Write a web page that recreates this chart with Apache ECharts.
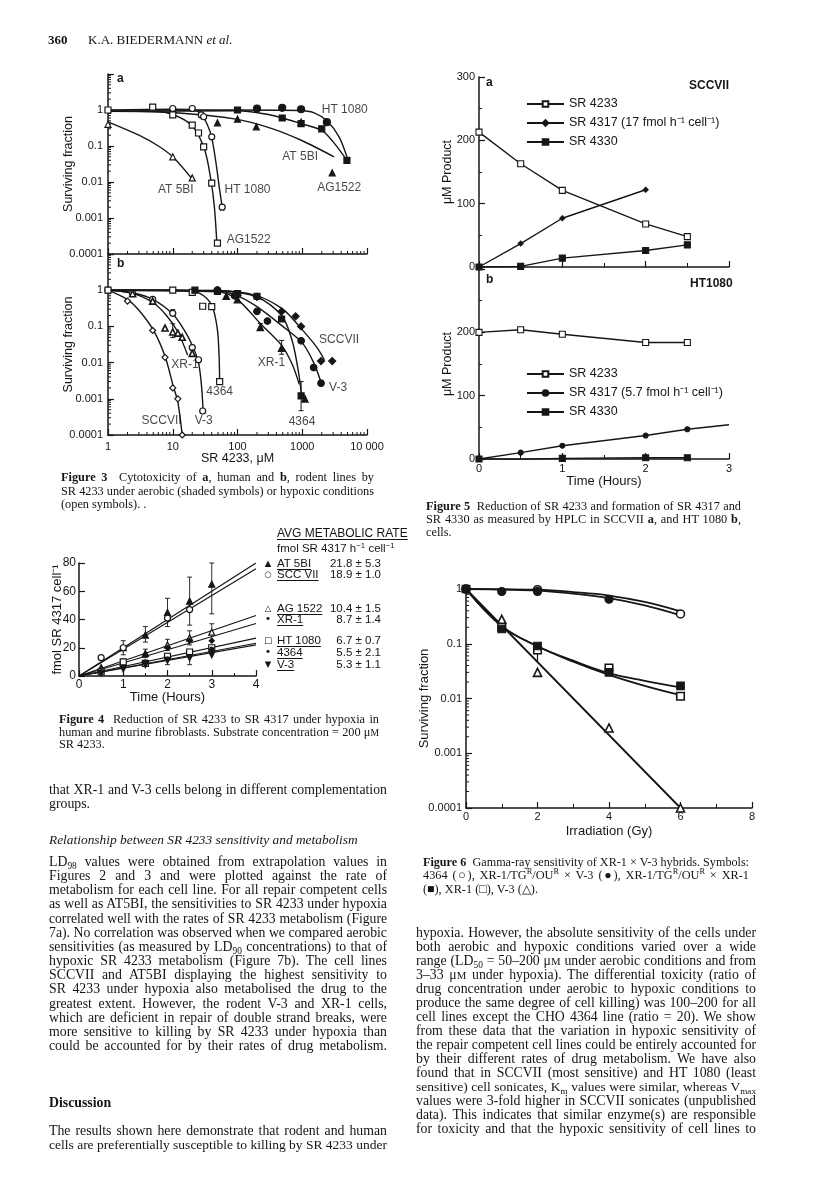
<!DOCTYPE html>
<html>
<head>
<meta charset="utf-8">
<title>SR 4233 figures</title>
<script src="https://cdn.jsdelivr.net/npm/echarts@6.0.0/dist/echarts.min.js"></script>
<style>
html,body{margin:0;padding:0;background:#fff;}
#page{position:relative;width:816px;height:1194px;overflow:hidden;background:#fff;}
#chart{position:absolute;left:0;top:0;width:816px;height:1194px;}
#overlay{position:absolute;left:0;top:0;width:816px;height:1194px;}
.txt{position:absolute;color:#141414;font-family:'Liberation Serif','Times New Roman',serif;white-space:nowrap;line-height:14px;}
.j{white-space:normal;text-align:justify;text-align-last:justify;overflow:hidden;}
.cap{font-size:12.3px;}
.body{font-size:13.8px;}
.sans{font-family:'Liberation Sans',Arial,sans-serif;}
sub,sup{font-size:0.68em;line-height:0;}
sub{vertical-align:-0.3em;}
sup{vertical-align:0.55em;}
.sc{font-size:0.78em;}
u{text-underline-offset:2px;}
</style>
</head>
<body>
<div id="page">
  <div id="chart"></div>
  <div id="overlay"></div>
</div>
<script>
// ================= DATA =================
// Figure 3 tick labels
const f3XTickLabels = ['1', '10', '100', '1000', '10 000'];          // decades 0..4
const f3YTickLabels = ['0.0001', '0.001', '0.01', '0.1', '1'];     // decades -4..0

// Figure 3a (human lines), [SR 4233 µM, surviving fraction]
const f3aAG1522Hyp    = [[1,1],[4.9,1.2],[10,0.73],[20,0.38],[25,0.23],[30,0.094],[40,0.0093],[49,0.0002]];
const f3aAG1522HypFit = [[1,0.92],[5,0.9],[10,0.75],[20,0.36],[31,0.08],[39,0.011],[44,0.002],[48,0.0002]];
const f3aHT1080Hyp    = [[10,1.1],[20,1.1],[27.6,0.73],[30,0.65],[40,0.18],[58,0.002]];
const f3aHT1080HypFit = [[1,1],[10,1.05],[20,1.02],[27,0.8],[34,0.4],[40,0.17],[47,0.03],[53,0.006],[58,0.002]];
const f3aAT5BIHyp     = [[1,0.4],[10,0.05],[20,0.013]];
const f3aAT5BIHypFit  = [[1,0.47],[3,0.2],[6,0.1],[10,0.05],[20,0.012]];
const f3aHT1080Aer    = [[200,1.1],[490,1.15],[960,1.05],[2400,0.46]];
const f3aHT1080AerFit = [[3,1],[100,1],[900,0.97],[1500,0.85],[2400,0.5],[3700,0.18],[4900,0.05]];
const f3aAG1522Aer    = [[100,1],[490,0.6],[960,0.42],[2000,0.3],[4900,0.04]];
const f3aAG1522AerFit = [[1,0.92],[100,0.95],[300,0.75],[490,0.6],[960,0.42],[2000,0.27],[3000,0.13],[4900,0.04]];
const f3aAT5BIAer     = [[49,0.44],[100,0.56],[195,0.34],[960,0.46],[2900,0.018]];
const f3aAT5BIAerFit  = [[1,0.95],[10,0.85],[100,0.55],[350,0.3],[1000,0.14],[3100,0.05]];
const f3aLabels = [['HT 1080',2000,1.0],['AT 5BI',490,0.05],['AG1522',1700,0.0068],
                   ['AT 5BI',5.9,0.006],['HT 1080',63,0.006],['AG1522',68,0.00025]];

// Figure 3b (rodent lines)
const f3bSCCVIIHyp    = [[1,1],[2,0.5],[4.9,0.077],[7.6,0.014],[10,0.002],[12,0.001],[14,0.0001]];
const f3bSCCVIIHypFit = [[1,1],[2,0.55],[3,0.28],[5,0.08],[7.6,0.015],[10,0.0025],[12,0.0008],[14,0.0001]];
const f3bV3Hyp        = [[1,1],[2.4,0.82],[4.9,0.56],[10,0.23],[20,0.026],[25,0.012],[29,0.00046]];
const f3bV3HypFit     = [[1,1],[2.4,0.85],[5,0.55],[10,0.22],[15,0.08],[20,0.03],[25,0.01],[28,0.002],[29.5,0.0004]];
const f3bXR1Hyp       = [[2.4,0.8],[4.9,0.5],[7.6,0.09],[10,0.07],[12,0.065],[14,0.05],[20,0.018]];
const f3bXR1HypFit    = [[1,1],[2.4,0.82],[5,0.45],[8,0.2],[12,0.07],[17,0.016]];
const f3b4364Hyp      = [[1,1],[10,1],[20,0.87],[29,0.36],[40,0.35],[53,0.003]];
const f3b4364HypFit   = [[1,1],[10,1],[20,0.95],[30,0.7],[41,0.35],[49,0.08],[52,0.015],[53,0.003]];
const f3bSCCVIIAer    = [[49,1],[100,0.73],[200,0.65],[480,0.26],[790,0.19],[960,0.1],[1950,0.011],[2900,0.011]];
const f3bSCCVIIAerFit = [[1,1],[50,0.98],[200,0.7],[500,0.3],[900,0.1],[1640,0.028],[2200,0.012]];
const f3bV3Aer        = [[49,1],[90,0.7],[200,0.26],[290,0.14],[960,0.04],[1500,0.0073],[1950,0.0027]];
const f3bV3AerFit     = [[1,1],[50,0.95],[100,0.7],[200,0.35],[500,0.1],[1000,0.035],[1500,0.01],[2000,0.0025]];
const f3bXR1Aer       = [[67,0.68],[100,0.55],[225,0.094],[480,0.025],[1100,0.001]];
const f3bXR1AerFit    = [[1,1],[50,0.9],[100,0.55],[225,0.12],[480,0.03],[700,0.009],[900,0.0025]];
const f3b4364Aer      = [[22,1],[49,0.93],[100,0.8],[200,0.68],[480,0.16],[960,0.0012]];
const f3b4364AerFit   = [[1,1],[50,0.95],[200,0.65],[480,0.2],[700,0.04],[900,0.004],[980,0.001]];
const f3bErr = [[10,0.049,0.118],[10,0.2,0.29],[20,0.015,0.03],[225,0.08,0.12],[480,0.017,0.041],[960,0.00047,0.003]];
const f3bLabels = [['SCCVII',1820,0.044],['XR-1',206,0.0098],['V-3',2600,0.002],['4364',617,0.00023],
                   ['XR-1',9.5,0.0088],['4364',33,0.0016],['SCCVII',3.3,0.00025],['V-3',21.8,0.00025]];

// Figure 4: metabolic rate (fmol SR 4317 per cell vs time, h)
const f4Names  = ['AT 5BI','SCC VII','AG 1522','XR-1','HT 1080','4364','V-3'];
const f4Rates  = ['21.8 ± 5.3','18.9 ± 1.0','10.4 ± 1.5','8.7 ± 1.4','6.7 ± 0.7','5.5 ± 2.1','5.3 ± 1.1'];
const f4Slopes = [20, 19, 10.7, 9.3, 6.7, 5.8, 5.5];   // fitted lines as drawn
const f4Time   = [0.5, 1, 1.5, 2, 2.5, 3];
const f4AT5BI  = [6, 20, 29, 45, 53, 65];
const f4SCCVII = [13, 20, null, 41, 47, null];
const f4AG1522 = [5, 10, 16, 22, 27, 31];
const f4XR1    = [4, 9, 15, 20, 25, 25];
const f4HT1080 = [3, 10, 9, 14, 17, 20];
const f44364   = [3, 6, 10, 12, 14, 19];
const f4V3     = [2, 5, 8, 11, 13, 15];
const f4Err = [[1,15,25],[1.5,24,35],[2,35,55],[2.5,36,70],[3,44,80],[1.5,13,19],[2,18,26],[2.5,22,32],[3,25,37],[2,8,16],[2.5,8,18]];

// Figure 5: HPLC, µM vs time (h)
const f5aT4233 = [0, 0.5, 1, 2, 2.5];   const f5a4233 = [213, 163, 121, 68, 48];
const f5aT4317 = [0, 0.5, 1, 2];        const f5a4317 = [0, 37, 77, 122];
const f5aT4330 = [0, 0.5, 1, 2, 2.5];   const f5a4330 = [0, 1, 14, 26, 35];
const f5bT4233 = [0, 0.5, 1, 2, 2.5];   const f5b4233 = [200, 204, 197, 184, 184];
const f5bT4317 = [0, 0.5, 1, 2, 2.5];   const f5b4317 = [0, 10, 21, 37, 47];
const f5bT4317Ext = [2.5, 3];           const f5b4317Ext = [47, 54];
const f5bT4330 = [0, 0.5, 1, 2, 2.5];   const f5b4330 = [0, -0.5, 1, 2, 2];
const f5aNames = ['SR 4233', 'SR 4317 (17 fmol h⁻¹ cell⁻¹)', 'SR 4330'];
const f5bNames = ['SR 4233 ', 'SR 4317 (5.7 fmol h⁻¹ cell⁻¹)', 'SR 4330 '];

// Figure 6: gamma-ray survival, dose (Gy)
const f6Dose4364 = [0, 2, 6];          const f6S4364 = [1, 0.97, 0.35];
const f6DoseTGV3 = [0, 1, 2, 4];       const f6STGV3 = [1, 0.9, 0.9, 0.65];
const f6DoseTGXR = [0, 1, 2, 4, 6];    const f6STGXR = [1, 0.186, 0.091, 0.03, 0.017];
const f6DoseXR1  = [1, 2, 4, 6];       const f6SXR1  = [0.2, 0.077, 0.036, 0.011];
const f6DoseV3   = [1, 2, 4, 6];       const f6SV3   = [0.28, 0.03, 0.0029, 0.0001];
const f6FitDose  = [0, 1, 2, 3, 4, 5, 6];
const f6Fit4364  = [1, 0.99, 0.97, 0.88, 0.76, 0.58, 0.39];
const f6FitTGV3  = [1, 0.97, 0.93, 0.82, 0.68, 0.5, 0.33];
const f6FitTGXR  = [1, 0.21, 0.09, 0.049, 0.029, 0.021, 0.016];
const f6FitXR1   = [1, 0.21, 0.09, 0.047, 0.027, 0.017, 0.0115];
const f6FitV3Dose = [0, 6];            const f6FitV3 = [1, 0.0001];
const f6Err = [[2,0.045,0.077],[6,0.0093,0.011]];
const f6YTickLabels = ['0.0001', '0.001', '0.01', '0.1', '1'];

// ================= CHART =================
const K = '#161616';
const SANS = "'Liberation Sans', Arial, Helvetica, sans-serif";
const zip = (xs, ys) => xs.map((x, i) => [x, ys[i]]);

function merge(a, b) {
  for (const k in b) {
    const v = b[k];
    if (v && typeof v === 'object' && !Array.isArray(v)) {
      a[k] = merge(a[k] && typeof a[k] === 'object' ? a[k] : {}, v);
    } else a[k] = v;
  }
  return a;
}
function axis(extra) {
  return merge({
    axisLine: {show: true, onZero: false, lineStyle: {color: K, width: 1.5}},
    axisTick: {show: true, inside: true, length: 6, lineStyle: {color: K, width: 1.2}},
    minorTick: {show: false},
    axisLabel: {show: true, color: K, fontSize: 11, fontFamily: SANS, margin: 5},
    splitLine: {show: false},
    nameLocation: 'middle',
    nameMoveOverlap: false,
    nameTextStyle: {color: K, fontSize: 12.5, fontFamily: SANS}
  }, extra);
}
const fmtLogY = v => { const e = Math.round(Math.log10(v)); return f3YTickLabels[e + 4] || ''; };
const fmtLogX = v => { const e = Math.round(Math.log10(v)); return f3XTickLabels[e] || ''; };
const fmt6Y = v => { const e = Math.round(Math.log10(v)); return f6YTickLabels[e + 4] || ''; };

function fit(xi, yi, data, w, smooth) {
  return {type: 'line', xAxisIndex: xi, yAxisIndex: yi, data, smooth: smooth === undefined ? 0.3 : smooth,
    symbol: 'none', lineStyle: {color: K, width: w || 1.4}, z: 3, silent: true};
}
function marks(xi, yi, data, symbol, filled, size, extra) {
  return merge({type: 'scatter', xAxisIndex: xi, yAxisIndex: yi, data, symbol, symbolSize: size || 6,
    itemStyle: {color: filled ? K : '#fff', borderColor: K, borderWidth: 1.2, opacity: 1}, z: 5, silent: true}, extra || {});
}
function labels(xi, yi, arr, fs) {
  return {type: 'scatter', xAxisIndex: xi, yAxisIndex: yi, symbolSize: 0, silent: true, z: 6,
    data: arr.map(a => ({name: a[0], value: [a[1], a[2]]})),
    label: {show: true, position: 'right', distance: 0, formatter: '{b}', color: K, fontSize: fs || 12, fontFamily: SANS}};
}
function errSeries(xi, yi, arr, cap, w) {
  return {type: 'custom', xAxisIndex: xi, yAxisIndex: yi, data: arr, encode: {x: 0, y: [1, 2]}, z: 4, silent: true, clip: false,
    renderItem: (p, api) => {
      const x = api.value(0);
      const a = api.coord([x, api.value(1)]), b = api.coord([x, api.value(2)]);
      const st = {stroke: K, lineWidth: w || 1};
      return {type: 'group', children: [
        {type: 'line', shape: {x1: a[0], y1: a[1], x2: b[0], y2: b[1]}, style: st},
        {type: 'line', shape: {x1: a[0] - cap, y1: a[1], x2: a[0] + cap, y2: a[1]}, style: st},
        {type: 'line', shape: {x1: b[0] - cap, y1: b[1], x2: b[0] + cap, y2: b[1]}, style: st}]};
    }};
}
function logMinor(xi, yi, dir, e0, e1, fixed, len) {
  const data = [];
  for (let e = e0; e < e1; e++) for (let k = 2; k <= 9; k++) {
    const v = k * Math.pow(10, e);
    data.push(dir === 'y' ? [fixed, v] : [v, fixed]);
  }
  return {type: 'custom', xAxisIndex: xi, yAxisIndex: yi, data, silent: true, clip: false, z: 2,
    renderItem: (p, api) => {
      const c = api.coord([api.value(0), api.value(1)]);
      const shape = dir === 'y' ? {x1: c[0], y1: c[1], x2: c[0] + len, y2: c[1]}
                                : {x1: c[0], y1: c[1], x2: c[0], y2: c[1] - len};
      return {type: 'line', shape, style: {stroke: K, lineWidth: 1}};
    }};
}
function pline(xi, yi, data, symbol, filled, size, name, extra) {
  return merge({type: 'line', name, xAxisIndex: xi, yAxisIndex: yi, data, symbol, symbolSize: size, showSymbol: true,
    lineStyle: {color: K, width: 1.4}, itemStyle: {color: filled ? K : '#fff', borderColor: K, borderWidth: 1.1},
    z: 4, silent: true}, extra || {});
}

const series = [];
// ---- Figure 3a ----
[f3aAG1522HypFit, f3aHT1080HypFit, f3aAT5BIHypFit, f3aHT1080AerFit, f3aAG1522AerFit, f3aAT5BIAerFit]
  .forEach(d => series.push(fit(0, 0, d, 1.4)));
series.push(marks(0, 0, f3aAG1522Hyp, 'rect', false, 6));
series.push(marks(0, 0, f3aHT1080Hyp, 'circle', false, 6));
series.push(marks(0, 0, f3aAT5BIHyp, 'triangle', false, 6));
series.push(marks(0, 0, f3aHT1080Aer, 'circle', true, 7));
series.push(marks(0, 0, f3aAG1522Aer, 'rect', true, 6));
series.push(marks(0, 0, f3aAT5BIAer, 'triangle', true, 6));
series.push(labels(0, 0, f3aLabels, 12));
series.push(logMinor(0, 0, 'y', -4, 1, 1, 3));
series.push(logMinor(0, 0, 'x', 0, 4, 0.0001, 3));
// ---- Figure 3b ----
[f3bSCCVIIHypFit, f3bV3HypFit, f3bXR1HypFit, f3b4364HypFit, f3bSCCVIIAerFit, f3bV3AerFit, f3bXR1AerFit, f3b4364AerFit]
  .forEach(d => series.push(fit(1, 1, d, 1.4)));
series.push(errSeries(1, 1, f3bErr, 2.5, 1));
series.push(marks(1, 1, f3bSCCVIIHyp, 'diamond', false, 6));
series.push(marks(1, 1, f3bV3Hyp, 'circle', false, 6));
series.push(marks(1, 1, f3bXR1Hyp, 'triangle', false, 6, {itemStyle: {borderWidth: 1.6}}));
series.push(marks(1, 1, f3b4364Hyp, 'rect', false, 6));
series.push(marks(1, 1, f3bSCCVIIAer, 'diamond', true, 7));
series.push(marks(1, 1, f3bV3Aer, 'circle', true, 6.5));
series.push(marks(1, 1, f3bXR1Aer, 'triangle', true, 6.5));
series.push(marks(1, 1, f3b4364Aer, 'rect', true, 6));
series.push(labels(1, 1, f3bLabels, 12));
series.push(logMinor(1, 1, 'y', -4, 1, 1, 3));
series.push(logMinor(1, 1, 'x', 0, 4, 0.0001, 3));
// ---- Figure 4 ----
f4Slopes.forEach(s => series.push(fit(2, 2, [[0, 0], [4, 4 * s]], 1.2, false)));
series.push(errSeries(2, 2, f4Err, 2.5, 0.9));
const f4Sets = [f4AT5BI, f4SCCVII, f4AG1522, f4XR1, f4HT1080, f44364, f4V3];
const f4Sym = [['triangle', true, 6], ['circle', false, 6], ['triangle', false, 6], ['diamond', true, 5],
               ['rect', false, 6], ['circle', true, 4], ['triangle', true, 6]];
f4Sets.forEach((vals, i) => {
  const d = zip(f4Time, vals).filter(p => p[1] !== null);
  series.push(marks(2, 2, d, f4Sym[i][0], f4Sym[i][1], f4Sym[i][2], i === 6 ? {symbolRotate: 180} : {}));
});
// ---- Figure 5 ----
series.push(pline(3, 3, zip(f5aT4233, f5a4233), 'rect', false, 6, f5aNames[0]));
series.push(pline(3, 3, zip(f5aT4317, f5a4317), 'diamond', true, 5, f5aNames[1]));
series.push(pline(3, 3, zip(f5aT4330, f5a4330), 'rect', true, 6, f5aNames[2]));
series.push(pline(4, 4, zip(f5bT4233, f5b4233), 'rect', false, 6, f5bNames[0]));
series.push(pline(4, 4, zip(f5bT4317, f5b4317), 'circle', true, 5, f5bNames[1]));
series.push(fit(4, 4, zip(f5bT4317Ext, f5b4317Ext), 1.4, false));
series.push(pline(4, 4, zip(f5bT4330, f5b4330), 'rect', true, 6, f5bNames[2]));
// ---- Figure 6 ----
series.push(fit(5, 5, zip(f6FitDose, f6Fit4364), 1.8, 0.4));
series.push(fit(5, 5, zip(f6FitDose, f6FitTGV3), 1.8, 0.4));
series.push(fit(5, 5, zip(f6FitDose, f6FitTGXR), 1.8, 0.4));
series.push(fit(5, 5, zip(f6FitDose, f6FitXR1), 1.8, 0.4));
series.push(fit(5, 5, zip(f6FitV3Dose, f6FitV3), 1.8, false));
series.push(errSeries(5, 5, f6Err, 0.1, 1.2));
series.push(marks(5, 5, zip(f6Dose4364, f6S4364), 'circle', false, 8, {itemStyle: {borderWidth: 1.6}}));
series.push(marks(5, 5, zip(f6DoseTGV3, f6STGV3), 'circle', true, 8));
series.push(marks(5, 5, zip(f6DoseXR1, f6SXR1), 'rect', false, 7.5, {itemStyle: {borderWidth: 1.6}}));
series.push(marks(5, 5, zip(f6DoseTGXR, f6STGXR), 'rect', true, 7.5));
series.push(marks(5, 5, zip(f6DoseV3, f6SV3), 'triangle', false, 8, {itemStyle: {borderWidth: 1.6}}));
series.push(logMinor(5, 5, 'y', -4, 0, 0, 3));

const legendBase = {orient: 'vertical', left: 526, itemWidth: 37, itemHeight: 7, itemGap: 5, padding: 0,
  selectedMode: false, textStyle: {color: K, fontSize: 12.5, fontFamily: SANS, lineHeight: 14}};

const option = {
  animation: false,
  backgroundColor: 'transparent',
  grid: [
    {left: 108, top: 74, width: 259, height: 180},
    {left: 108, top: 254, width: 259, height: 181},
    {left: 79, top: 563, width: 177, height: 113},
    {left: 479, top: 77, width: 250, height: 190},
    {left: 479, top: 269, width: 250, height: 190},
    {left: 466, top: 589, width: 286, height: 219}
  ],
  legend: [
    merge({data: f5aNames, top: 97}, legendBase),
    merge({data: f5bNames, top: 367}, legendBase)
  ],
  xAxis: [
    axis({gridIndex: 0, type: 'log', logBase: 10, min: 1, max: 10000, splitNumber: 4, axisLabel: {show: false}}),
    axis({gridIndex: 1, type: 'log', logBase: 10, min: 1, max: 10000, splitNumber: 4,
          axisLabel: {formatter: fmtLogX, margin: 6}, name: 'SR 4233, μM', nameGap: 17}),
    axis({gridIndex: 2, type: 'value', min: 0, max: 4, interval: 1,
          minorTick: {show: true, splitNumber: 2, length: 3, lineStyle: {color: K}},
          axisLabel: {fontSize: 12, margin: 3}, name: 'Time (Hours)', nameGap: 15, nameTextStyle: {fontSize: 13}}),
    axis({gridIndex: 3, type: 'value', min: 0, max: 3, interval: 1,
          minorTick: {show: true, splitNumber: 2, length: 4, lineStyle: {color: K}}, axisLabel: {show: false}}),
    axis({gridIndex: 4, type: 'value', min: 0, max: 3, interval: 1,
          minorTick: {show: true, splitNumber: 2, length: 4, lineStyle: {color: K}},
          axisLabel: {margin: 4}, name: 'Time (Hours)', nameGap: 16, nameTextStyle: {fontSize: 13}}),
    axis({gridIndex: 5, type: 'value', min: 0, max: 8, interval: 2,
          minorTick: {show: true, splitNumber: 2, length: 4, lineStyle: {color: K}},
          axisLabel: {margin: 3}, name: 'Irradiation (Gy)', nameGap: 17, nameTextStyle: {fontSize: 13}})
  ],
  yAxis: [
    axis({gridIndex: 0, type: 'log', logBase: 10, min: 0.0001, max: 10, splitNumber: 5,
          axisLabel: {formatter: fmtLogY}, name: 'Surviving fraction', nameGap: 33}),
    axis({gridIndex: 1, type: 'log', logBase: 10, min: 0.0001, max: 10, splitNumber: 5,
          axisLabel: {formatter: fmtLogY}, name: 'Surviving fraction', nameGap: 33}),
    axis({gridIndex: 2, type: 'value', min: 0, max: 80, interval: 20,
          axisLabel: {fontSize: 12, margin: 3}, name: 'fmol SR 4317 cell⁻¹', nameGap: 15, nameTextStyle: {fontSize: 13}}),
    axis({gridIndex: 3, type: 'value', min: 0, max: 300, interval: 100,
          minorTick: {show: true, splitNumber: 2, length: 3, lineStyle: {color: K}},
          axisLabel: {margin: 4}, name: 'μM Product', nameGap: 25}),
    axis({gridIndex: 4, type: 'value', min: 0, max: 300, interval: 100,
          minorTick: {show: true, splitNumber: 2, length: 3, lineStyle: {color: K}},
          axisLabel: {margin: 4, formatter: v => (v >= 300 ? '' : String(v))}, name: 'μM Product', nameGap: 25}),
    axis({gridIndex: 5, type: 'log', logBase: 10, min: 0.0001, max: 1, splitNumber: 4,
          axisLabel: {formatter: fmt6Y, margin: 4}, name: 'Surviving fraction', nameGap: 35, nameTextStyle: {fontSize: 13}})
  ],
  graphic: [
    {type: 'text', left: 117, top: 73, silent: true, style: {text: 'a', fontSize: 12, fontWeight: 'bold', fill: K, fontFamily: SANS}},
    {type: 'text', left: 117, top: 258, silent: true, style: {text: 'b', fontSize: 12, fontWeight: 'bold', fill: K, fontFamily: SANS}},
    {type: 'text', left: 486, top: 77, silent: true, style: {text: 'a', fontSize: 12, fontWeight: 'bold', fill: K, fontFamily: SANS}},
    {type: 'text', left: 689, top: 80, silent: true, style: {text: 'SCCVII', fontSize: 12, fontWeight: 'bold', fill: K, fontFamily: SANS}},
    {type: 'text', left: 486, top: 274, silent: true, style: {text: 'b', fontSize: 12, fontWeight: 'bold', fill: K, fontFamily: SANS}},
    {type: 'text', left: 690, top: 278, silent: true, style: {text: 'HT1080', fontSize: 12, fontWeight: 'bold', fill: K, fontFamily: SANS}}
  ],
  series
};
const chart = echarts.init(document.getElementById('chart'), null, {renderer: 'canvas'});
chart.setOption(option);

// ================= TEXT (page typography) =================
const ov = document.getElementById('overlay');
function addLine(x, top, w, html, cls, just) {
  const d = document.createElement('div');
  d.className = 'txt ' + cls + (just ? ' j' : '');
  d.style.left = x + 'px';
  d.style.top = top + 'px';
  if (w) d.style.width = w + 'px';
  d.innerHTML = html;
  ov.appendChild(d);
  return d;
}
function addPara(x, cy0, w, lh, lines, cls, justifyLast) {
  lines.forEach((h, i) => addLine(x, Math.round(cy0 + i * lh - 7), w, h, cls, i < lines.length - 1 || justifyLast));
}
const uM = 'μ<span class="sc">M</span>';

// header
addLine(48, 33, 0, '<b>360</b>', 'body', false).style.fontSize = '13px';
addLine(88, 33, 0, 'K.A. BIEDERMANN <i>et al.</i>', 'body', false).style.fontSize = '13px';

// captions
addPara(61, 477, 313, 13.5, [
  '<b>Figure 3</b>&nbsp; Cytotoxicity of <b>a</b>, human and <b>b</b>, rodent lines by',
  'SR 4233 under aerobic (shaded symbols) or hypoxic conditions',
  '(open symbols). .'], 'cap', false);
addPara(59, 719, 320, 12.6, [
  '<b>Figure 4</b>&nbsp; Reduction of SR 4233 to SR 4317 under hypoxia in',
  'human and murine fibroblasts. Substrate concentration = 200 ' + uM,
  'SR 4233.'], 'cap', false);
addPara(426, 506, 315, 13.2, [
  '<b>Figure 5</b>&nbsp; Reduction of SR 4233 and formation of SR 4317 and',
  'SR 4330 as measured by HPLC in SCCVII <b>a</b>, and HT 1080 <b>b</b>,',
  'cells.'], 'cap', false);
addPara(423, 862, 326, 13.3, [
  '<b>Figure 6</b>&nbsp; Gamma-ray sensitivity of XR-1 × V-3 hybrids. Symbols:',
  '4364 (○), XR-1/TG<sup>R</sup>/OU<sup>R</sup> × V-3 (●), XR-1/TG<sup>R</sup>/OU<sup>R</sup> × XR-1',
  '(■), XR-1 (□), V-3 (△).'], 'cap', false);

// left column body
addPara(49, 790, 338, 13.5, [
  'that XR-1 and V-3 cells belong in different complementation',
  'groups.'], 'body', false);
addLine(49, 833, 0, '<i>Relationship between SR 4233 sensitivity and metabolism</i>', 'body', false).style.fontSize = '13.4px';
addPara(49, 862, 338, 14.15, [
  'LD<sub>98</sub> values were obtained from extrapolation values in',
  'Figures 2 and 3 and were plotted against the rate of',
  'metabolism for each cell line. For all repair competent cells',
  'as well as AT5BI, the sensitivities to SR 4233 under hypoxia',
  'correlated well with the rates of SR 4233 metabolism (Figure',
  '7a). No correlation was observed when we compared aerobic',
  'sensitivities (as measured by LD<sub>90</sub> concentrations) to that of',
  'hypoxic SR 4233 metabolism (Figure 7b). The cell lines',
  'SCCVII and AT5BI displaying the highest sensitivity to',
  'SR 4233 under hypoxia also metabolised the drug to the',
  'greatest extent. However, the rodent V-3 and XR-1 cells,',
  'which are deficient in repair of double strand breaks, were',
  'more sensitive to killing by SR 4233 under hypoxia than',
  'could be accounted for by their rates of drug metabolism.'], 'body', true);
addLine(49, 1096, 0, '<b>Discussion</b>', 'body', false);
addPara(49, 1131, 338, 13.8, [
  'The results shown here demonstrate that rodent and human',
  'cells are preferentially susceptible to killing by SR 4233 under'], 'body', true);

// right column body
addPara(416, 933, 340, 14.0, [
  'hypoxia. However, the absolute sensitivity of the cells under',
  'both aerobic and hypoxic conditions varied over a wide',
  'range (LD<sub>50</sub> = 50–200 ' + uM + ' under aerobic conditions and from',
  '3–33 ' + uM + ' under hypoxia). The differential toxicity (ratio of',
  'drug concentration under aerobic to hypoxic conditions to',
  'produce the same degree of cell killing) was 100–200 for all',
  'cell lines except the CHO 4364 line (ratio = 20). We show',
  'from these data that the variation in hypoxic sensitivity of',
  'the repair competent cell lines could be entirely accounted for',
  'by their different rates of drug metabolism. We have also',
  'found that in SCCVII (most sensitive) and HT 1080 (least',
  'sensitive) cell sonicates, K<sub>m</sub> values were similar, whereas V<sub>max</sub>',
  'values were 3-fold higher in SCCVII sonicates (unpublished',
  'data). This indicates that similar enzyme(s) are responsible',
  'for toxicity and that the hypoxic sensitivity of cell lines to'], 'body', true);

// Figure 4 legend table
const f4RowY = [563, 573.5, 608, 619, 639.5, 652, 663.5];
const f4Glyph = ['▲', '○', '△', '•', '□', '•', '▼'];
addLine(277, 526, 0, '<u>AVG METABOLIC RATE</u>', 'sans', false).style.fontSize = '12px';
addLine(277, 541, 0, 'fmol SR 4317 h<sup>−1</sup> cell<sup>−1</sup>', 'sans', false).style.fontSize = '11.5px';
f4Names.forEach((n, i) => {
  const g = addLine(263, f4RowY[i] - 7, 10, f4Glyph[i], 'sans', false);
  g.style.fontSize = (f4Glyph[i] === '•' ? 11 : 8.5) + 'px';
  g.style.fontFamily = "'DejaVu Sans', sans-serif";
  g.style.textAlign = 'center';
  addLine(277, f4RowY[i] - 7, 0, '<u>' + n + '</u>', 'sans', false).style.fontSize = '11.5px';
  const r = addLine(315, f4RowY[i] - 7, 66, f4Rates[i], 'sans', false);
  r.style.fontSize = '11.5px';
  r.style.textAlign = 'right';
});

// shrink justified lines that would wrap
function fitLines() {
  document.querySelectorAll('.j').forEach(el => {
    let fs = parseFloat(getComputedStyle(el).fontSize);
    let guard = 0;
    while (el.scrollHeight > 20 && guard < 40) { fs -= 0.15; el.style.fontSize = fs + 'px'; guard++; }
  });
}
fitLines();
if (document.fonts && document.fonts.ready) document.fonts.ready.then(fitLines);
</script>
</body>
</html>
